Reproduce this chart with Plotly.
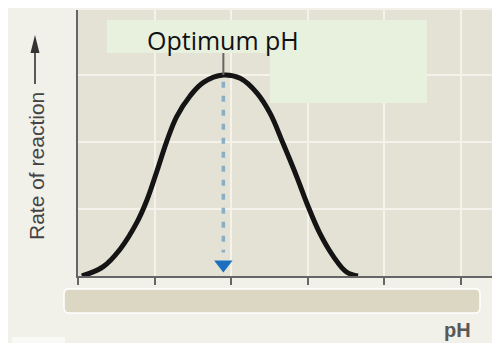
import plotly.graph_objects as go

# --- data (x in grid units along the pH axis, y in grid units of rate) ---
ph_x = [0.05, 0.33, 0.55, 0.77, 0.90, 1.03, 1.16, 1.29, 1.46, 1.64, 1.90,
        2.12, 2.34, 2.51, 2.68, 2.86, 2.99, 3.16, 3.34, 3.51, 3.66]
rate_y = [0.0, 0.14, 0.40, 0.80, 1.13, 1.56, 2.01, 2.38, 2.68, 2.89, 3.0,
          2.95, 2.73, 2.43, 1.98, 1.48, 1.09, 0.64, 0.29, 0.06, 0.0]
label_text = "Optimum pH"
y_title = "Rate of reaction"
x_title = "pH"

# page has an 8px body margin, so figure coords = screen coords - 8
OFF = 8
W, H = 500, 343
L, T = 78 - OFF, 10 - OFF
AXIS_Y = 276 - OFF
B = H - AXIS_Y
PW, PH = W - L, AXIS_Y - T
X_STEP, Y_STEP = 76.5, 67.0


def px(x):  # screen x -> paper
    return (x - OFF - L) / PW


def py(y):  # screen y -> paper
    return (AXIS_Y - (y - OFF)) / PH


peak_i = rate_y.index(max(rate_y))
peak_x = ph_x[peak_i]
peak_y = rate_y[peak_i]

fig = go.Figure()

# small grey stub above peak
fig.add_shape(type="line", xref="x", yref="y", x0=peak_x, x1=peak_x,
              y0=peak_y, y1=peak_y + 0.4, line=dict(color="#666", width=2))

# dashed drop line + arrow head
fig.add_trace(go.Scatter(
    x=[peak_x, peak_x], y=[peak_y - 0.1, 0.35], mode="lines",
    line=dict(color="#8aaec7", width=3.5, dash="6px,8px"),
    hoverinfo="skip", showlegend=False))
fig.add_trace(go.Scatter(
    x=[peak_x], y=[0.17], mode="markers",
    marker=dict(symbol="triangle-down", size=16, color="#1c6fbe"),
    hoverinfo="skip", showlegend=False))

fig.add_trace(go.Scatter(
    x=ph_x, y=rate_y, mode="lines",
    line=dict(color="#141414", width=5, shape="spline", smoothing=1.1),
    hoverinfo="skip", showlegend=False))

shapes = [
    # thin white strip on top (page margin is 8px, reference shows ~10)
    dict(type="rect", xref="paper", yref="paper", x0=px(0), x1=px(W + 10),
         y0=py(10), y1=py(0), fillcolor="white", line_width=0, layer="below"),
    # faint patch bottom-left
    dict(type="rect", xref="paper", yref="paper", x0=px(12), x1=px(65),
         y0=py(345), y1=py(337), fillcolor="#f9f9f6", line_width=0, layer="below"),
    # label boxes
    dict(type="rect", xref="paper", yref="paper", x0=px(107), x1=px(427),
         y0=py(53), y1=py(20), fillcolor="#e8f0de", line_width=0, layer="above"),
    dict(type="rect", xref="paper", yref="paper", x0=px(270), x1=px(427),
         y0=py(103), y1=py(53), fillcolor="#e8f0de", line_width=0, layer="above"),
    # y-title arrow
    dict(type="line", xref="paper", yref="paper", x0=px(35), x1=px(35),
         y0=py(84), y1=py(50), line=dict(color="#333", width=1.6)),
    dict(type="path", xref="paper", yref="paper",
         path=f"M {px(35)},{py(35)} L {px(30.5)},{py(53)} L {px(39.5)},{py(53)} Z",
         fillcolor="#333", line_width=0),
]

# rounded bottom box
x0, x1, y0, y1, r = 64, 480, 289, 313, 5
rx, ry = r / PW, r / PH
bx0, bx1, by0, by1 = px(x0), px(x1), py(y1), py(y0)
path = (f"M {bx0+rx},{by1} L {bx1-rx},{by1} Q {bx1},{by1} {bx1},{by1-ry} "
        f"L {bx1},{by0+ry} Q {bx1},{by0} {bx1-rx},{by0} L {bx0+rx},{by0} "
        f"Q {bx0},{by0} {bx0},{by0+ry} L {bx0},{by1-ry} Q {bx0},{by1} {bx0+rx},{by1} Z")
shapes.append(dict(type="path", xref="paper", yref="paper", path=path,
                   fillcolor="#dcd7c3", line=dict(color="white", width=1.5)))

fig.update_layout(shapes=shapes)

fig.add_annotation(x=px(223), y=py(40), xref="paper", yref="paper",
                   xanchor="center", yanchor="middle",
                   text=label_text, showarrow=False,
                   font=dict(family="Open Sans", size=25, color="#111"))
fig.add_annotation(x=px(36), y=py(166), xref="paper", yref="paper",
                   xanchor="center", yanchor="middle",
                   text=y_title, textangle=-90, showarrow=False,
                   font=dict(family="Liberation Sans", size=21, color="#444"))
fig.add_annotation(x=px(457), y=py(330), xref="paper", yref="paper",
                   xanchor="center", yanchor="middle",
                   text=f"<b>{x_title}</b>", showarrow=False,
                   font=dict(family="Liberation Sans", size=20, color="#585858"))

fig.update_xaxes(range=[0, PW / X_STEP], tick0=0, dtick=1,
                 showticklabels=False, ticks="outside", ticklen=7,
                 tickwidth=2, tickcolor="#666", showline=True,
                 linecolor="#666", linewidth=2, showgrid=True,
                 gridcolor="#f4f2ea", gridwidth=2, zeroline=False,
                 fixedrange=True)
fig.update_yaxes(range=[0, PH / Y_STEP], tick0=0, dtick=1,
                 showticklabels=False, ticks="", showline=True,
                 linecolor="#666", linewidth=2, showgrid=True,
                 gridcolor="#f4f2ea", gridwidth=2, zeroline=False,
                 fixedrange=True)

fig.update_layout(
    width=W, height=H,
    margin=dict(l=L, r=0, t=T, b=B),
    paper_bgcolor="#f1f0e9",
    plot_bgcolor="#e4e2d4",
    showlegend=False,
)

fig.write_html("out.html")
